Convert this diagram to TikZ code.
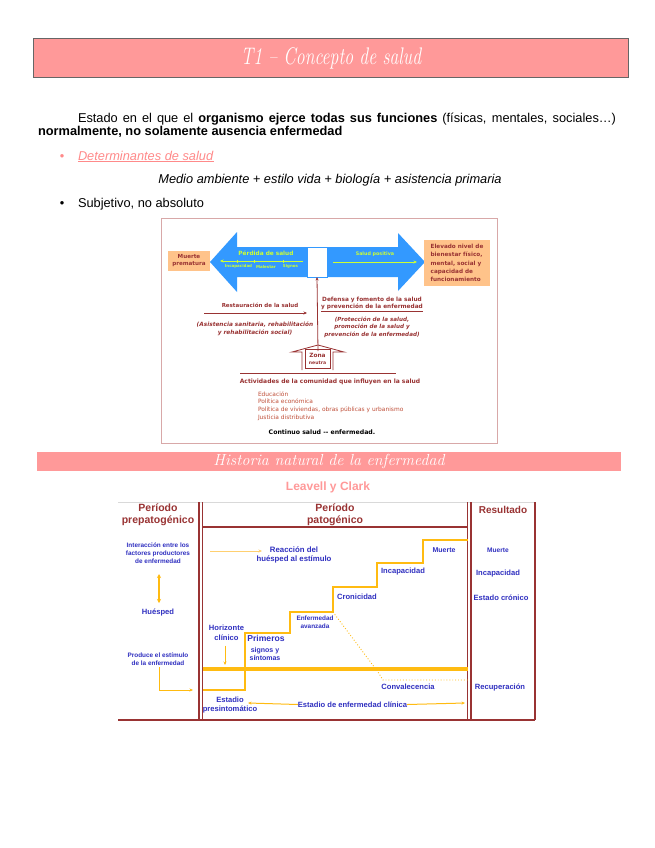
\documentclass[tikz,border=0pt]{standalone}
\usepackage{fontspec}
\newfontfamily\arial{Liberation Sans}
\newfontfamily\dejavu{DejaVu Sans}
\usetikzlibrary{arrows.meta}
\definecolor{pinkbar}{HTML}{FF9999}
\definecolor{pinktxt}{HTML}{FF8A8A}
\definecolor{darkred}{HTML}{993333}
\definecolor{fblue}{HTML}{3030C0}
\definecolor{orng}{HTML}{FFBB11}
\definecolor{lorng}{HTML}{FFD070}
\definecolor{arrowblue}{HTML}{3399FF}
\definecolor{ygreen}{HTML}{CCFF33}
\definecolor{boxorange}{HTML}{FFC38A}
\definecolor{listcol}{HTML}{C0503A}
\definecolor{framepink}{HTML}{D8A8A8}
\newcommand{\myfz}[2]{\fontsize{#1}{#2}\selectfont}
\begin{document}
\begin{tikzpicture}[x=1pt,y=-1pt,
  every node/.style={inner sep=0pt, outer sep=0pt},
  body/.style={font=\arial\myfz{12.8}{13.5}},
  d1/.style={text=darkred, font=\dejavu\bfseries\myfz{5.8}{7.4}, align=center},
  d1i/.style={text=darkred, font=\dejavu\bfseries\itshape\myfz{5.8}{7.5}, align=center},
  gtxt/.style={text=ygreen, font=\dejavu\bfseries\myfz{5.8}{6}},
  gsmall/.style={text=ygreen, font=\dejavu\bfseries\myfz{4}{4.5}},
  obox/.style={fill=boxorange, text=darkred, font=\dejavu\bfseries\myfz{5.7}{8.4}},
  hd/.style={text=darkred, font=\arial\bfseries\myfz{10.5}{12}, align=center},
  bl/.style={text=fblue, font=\arial\bfseries\myfz{7.6}{9.6}, align=center},
  bls/.style={text=fblue, font=\arial\bfseries\myfz{6.4}{8}, align=center},
  frame/.style={draw=darkred, line width=1.1pt},
  og/.style={draw=orng, line width=1.3pt},
  tip/.style={-{Stealth[length=3.5pt,width=3pt]}},
]
\useasboundingbox (0,0) rectangle (655,848);
\fill[white] (0,0) rectangle (655,848);

% ---------- title ----------
\node[draw=black!60, line width=0.8pt, fill=pinkbar, minimum width=595pt, minimum height=39pt] (tbar) at (330.5,57.5) {};
\node[text=white, font=\myfz{24}{24}\itshape] (title) at (331,58) {\scalebox{0.74}[1]{T1 -- Concepto de salud}};

% ---------- body text ----------
\node[body, anchor=base west] (l1) at (78,122) {\makebox[538pt][s]{Estado en el que el \textbf{organismo ejerce todas sus funciones} (físicas, mentales, sociales…)}};
\node[body, anchor=base west] (l2) at (38,135.5) {\textbf{normalmente, no solamente ausencia enfermedad}};
\node[body, text=pinktxt, anchor=base] (b1) at (62,160) {•};
\node[body, text=pinktxt, anchor=base west] (det) at (78,160) {\underline{\textit{Determinantes de salud}}};
\node[body, anchor=base] (medio) at (330,183) {\textit{Medio ambiente + estilo vida + biología + asistencia primaria}};
\node[body, anchor=base] (b2) at (62,207) {•};
\node[body, anchor=base west] (subj) at (78,207) {Subjetivo, no absoluto};

% ---------- figure 1 ----------
\draw[framepink, line width=0.8pt] (161,218) rectangle (497,443);
\fill[arrowblue] (210,262) -- (237,232) -- (237,247) -- (307,247) -- (307,277) -- (237,277) -- (237,292) -- cycle;
\fill[arrowblue] (327,247) -- (398,247) -- (398,233) -- (425,262) -- (398,291) -- (398,277) -- (327,277) -- cycle;
\node[draw=arrowblue, fill=white, line width=0.6pt, minimum width=20pt, minimum height=30pt] (wbox) at (317,262) {};
\node[gtxt] (perd) at (266,253.5) {Pérdida de salud};
\coordinate (pl1) at (303,261);
\coordinate (pl2) at (220,261);
\draw[ygreen, line width=0.6pt, tip] (pl1) -- (pl2);
\foreach \tx in {237,254,283} \draw[ygreen, line width=0.5pt] (\tx,259.5) -- (\tx,262.5);
\node[gsmall] (inc1) at (238.5,266.7) {Incapacidad};
\node[gsmall] (mal1) at (266,266.7) {Malestar};
\node[gsmall] (sig1) at (290.5,266.7) {Signos};
\node[gtxt, font=\dejavu\bfseries\myfz{4.8}{5}] (spos) at (375,254) {Salud positiva};
\coordinate (sp1) at (333,262);
\coordinate (sp2) at (417,262);
\draw[ygreen, line width=0.6pt, tip] (sp1) -- (sp2);
\node[obox, align=center, minimum width=42pt, minimum height=20pt, font=\dejavu\bfseries\myfz{5.6}{7.3}] (muerte) at (189,260.5) {Muerte\\prematura};
\node[obox, align=left, minimum width=66pt, minimum height=46pt, inner xsep=2.5pt] (elev) at (457,263) {Elevado nivel de\\bienestar físico,\\mental, social y\\capacidad de\\funcionamiento};

\node[d1, font=\dejavu\bfseries\myfz{5.5}{7}] (rest) at (260,305) {Restauración de la salud};
\coordinate (ra) at (204,313);
\coordinate (rb) at (307,313);
\draw[darkred, line width=0.8pt, tip] (ra) -- (rb);
\node[d1i] (asis) at (255,329) {(Asistencia sanitaria, rehabilitación\\y rehabilitación social)};

\node[d1] (def) at (372,304.5) {Defensa y fomento de la salud\\\underline{y prevención de la enfermedad}};
\node[d1i, font=\dejavu\bfseries\itshape\myfz{5.6}{7.3}] (prot) at (372,327.3) {(Protección de la salud,\\promoción de la salud y\\prevención de la enfermedad)};

\coordinate (vup) at (318,351);
\draw[darkred, line width=0.8pt, tip] (vup) -- (wbox.south);
\draw[darkred, line width=0.8pt] (302,370) -- (302,352) -- (292,352) -- (318,345) -- (344,352) -- (333,352) -- (333,370);
\node[draw=darkred, line width=0.6pt, d1, minimum width=25pt, minimum height=19pt] (zona) at (317.5,359) {Zona\\{\myfz{4.6}{6}neutra}};
\coordinate (hl1) at (240,373);
\coordinate (hl2) at (396,373);
\draw[darkred, line width=0.8pt] (hl1) -- (hl2);
\node[d1, font=\dejavu\bfseries\myfz{6}{7}] (activ) at (330,381.5) {Actividades de la comunidad que influyen en la salud};
\node[text=listcol, font=\dejavu\myfz{5.9}{7.7}, align=left, anchor=north west] (lista) at (258,391.3) {Educación\\Política económica\\Política de viviendas, obras públicas y urbanismo\\Justicia distributiva};
\node[font=\dejavu\bfseries\myfz{6.2}{7}] (cont) at (322,432) {Continuo salud -- enfermedad.};

% ---------- header 2 ----------
\node[fill=pinkbar, minimum width=584pt, minimum height=19pt] (hbar) at (328.5,461.5) {};
\node[text=white, font=\myfz{16}{16}\itshape] (htitle) at (329,461) {Historia natural de la enfermedad};
\node[text=pinkbar, font=\arial\bfseries\myfz{12}{13}] (lc) at (328,487) {Leavell y Clark};

% ---------- figure 2 ----------
\draw[black!15, line width=0.6pt] (118,502) -- (535,502);
\draw[frame] (199,502) -- (199,720);
\draw[frame] (202.5,502) -- (202.5,720);
\draw[frame] (467.5,502) -- (467.5,720);
\draw[frame] (471,502) -- (471,720);
\draw[frame] (535,502) -- (535,720);
\draw[frame] (118,720) -- (535,720);
\draw[frame] (202.5,527) -- (467.5,527);

\node[hd] (prep) at (158,515) {Período\\prepatogénico};
\node[hd] (pato) at (335,515) {Período\\patogénico};
\node[hd, font=\arial\bfseries\myfz{10}{12}] (resul) at (503,510) {Resultado};

\node[bls] (inter) at (158,553) {Interacción entre los\\factores productores\\de enfermedad};
\node[bl] (hues) at (158,612) {Huésped};
\draw[orng, line width=1.5pt, {Stealth[length=4pt,width=4pt]}-{Stealth[length=4pt,width=4pt]}] (159,574) -- (159,603);
\node[bls] (prod) at (158,659) {Produce el estímulo\\de la enfermedad};
\coordinate (pe) at (193,690);
\draw[orng, line width=1pt, tip] (159,667) -- (159,690) -- (pe);

\node[bl, font=\arial\bfseries\myfz{7.8}{9.6}] (reac) at (294,555) {Reacción del\\huésped al estímulo};
\coordinate (ra1) at (210,551);
\draw[lorng, line width=0.8pt, tip] (ra1) -- (262,551);

% staircase
\draw[og] (202.5,690) -- (245,690) -- (245,633) -- (290,633) -- (290,612) -- (333,612) -- (333,587) -- (377,587) -- (377,563) -- (423,563) -- (423,540) -- (467.5,540);
\draw[orng, line width=4pt] (202.5,669) -- (467.5,669);
\draw[orng, line width=0.9pt, dotted] (333,612) -- (378,672) -- (383,680) -- (467.5,680);

\node[bl, font=\arial\bfseries\myfz{7}{9}] (muer2) at (444,550) {Muerte};
\node[bl] (incap2) at (403,572) {Incapacidad};
\node[bl] (cron2) at (357,597) {Cronicidad};
\node[bls] (enfav) at (315,622) {Enfermedad\\avanzada};
\node[bl] (horiz) at (226.5,633) {Horizonte\\clínico};
\coordinate (hz) at (225,665);
\draw[orng, line width=0.9pt, tip] (225,645.5) -- (hz);
\node[bl, font=\arial\bfseries\myfz{8.6}{10}] (prim) at (266,638) {Primeros};
\node[bl, font=\arial\bfseries\myfz{7}{8.4}] (sig) at (265,654) {signos y\\síntomas};
\node[bl] (conv) at (408,687) {Convalecencia};
\node[bl] (estcl) at (352.5,704.5) {Estadio de enfermedad clínica};
\node[bl] (presin) at (230,705) {Estadio\\presintomático};
\coordinate (ea) at (248,703);
\coordinate (eb) at (465,703);
\draw[orng, line width=1pt, tip] (estcl.west) -- (ea);
\draw[orng, line width=1pt, tip] (estcl.east) -- (eb);

\node[bl, font=\arial\bfseries\myfz{6.6}{8}] (rm) at (498,550) {Muerte};
\node[bl] (ri) at (498,574) {Incapacidad};
\node[bl] (re) at (501,598) {Estado crónico};
\node[bl] (rr) at (500,687) {Recuperación};
\end{tikzpicture}
\end{document}
